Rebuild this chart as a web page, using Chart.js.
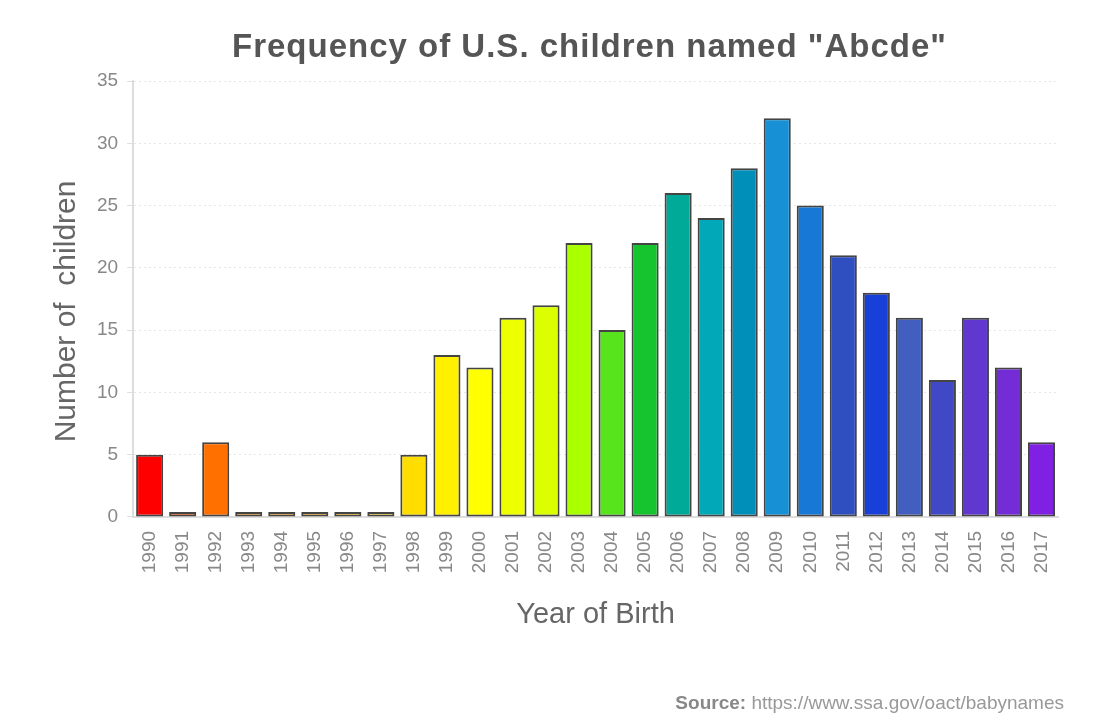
<!DOCTYPE html>
<html>
<head>
<meta charset="utf-8">
<script src="https://cdn.jsdelivr.net/npm/chart.js@4.4.1/dist/chart.umd.min.js"></script>
<style>
  body { margin: 0; background: #fff; }
  .wrap { position: relative; width: 1099px; height: 727px; }
  .source {
    position: absolute; right: 35px; top: 692px;
    font-family: "Liberation Sans", Arial, sans-serif;
    font-size: 19px; color: #999;
  }
  .source b { color: #888; }
</style>
</head>
<body>
<div class="wrap">
  <canvas id="myChart" width="1099" height="727"></canvas>
  <div class="source"><b>Source:</b> https://www.ssa.gov/oact/babynames</div>
</div>
<script>
const chartTitle = 'Frequency of U.S. children named "Abcde"'
const years = ['1990', '1991', '1992', '1993', '1994', '1995', '1996', '1997', '1998', '1999',
  '2000', '2001', '2002', '2003', '2004', '2005', '2006', '2007', '2008', '2009',
  '2010', '2011', '2012', '2013', '2014', '2015', '2016', '2017']
const counts = [5, 0, 6, 0, 0, 0, 0, 0, 5, 13, 12, 16, 17, 22, 15, 22, 26, 24, 28, 32,
  25, 21, 18, 16, 11, 16, 12, 6]
const barColors = [
  '#ff0000', '#ff5000', '#ff7000', '#ff9a18', '#ffa418', '#ffb018', '#ffc018', '#ffd018',
  '#ffdd00', '#fff000', '#ffff00', '#eeff00', '#dcff00', '#aaff00', '#58e41c', '#16c430',
  '#00aa98', '#00a8b8', '#008fb8', '#1890d6', '#1878d6', '#2f4ec0', '#1840d8', '#425fc0',
  '#4048c6', '#6038d0', '#732cd6', '#8020e2'
]
const yTicks = [0, 5, 10, 15, 20, 25, 30, 35]

// title drawn by hand, Chart.js title has no letter spacing
const spacedTitle = {
  id: 'spacedTitle',
  afterDraw(chart) {
    const c = chart.ctx
    c.save()
    c.font = 'bold 33px "Liberation Sans"'
    c.letterSpacing = '1px'
    c.fillStyle = '#555'
    c.textAlign = 'left'
    c.textBaseline = 'alphabetic'
    c.fillText(chartTitle, 232, 57)
    c.restore()
  }
}

const ctx = document.getElementById('myChart')
new Chart(ctx, {
  type: 'bar',
  data: {
    labels: years,
    datasets: [{
      data: counts,
      backgroundColor: barColors,
      borderColor: '#444',
      borderWidth: 2,
      borderSkipped: false,
      minBarLength: 5,
      barPercentage: 0.82,
      categoryPercentage: 1
    }]
  },
  options: {
    responsive: false,
    animation: false,
    layout: { padding: { left: 45, right: 41, top: 81, bottom: 91 } },
    plugins: {
      legend: { display: false },
      tooltip: { enabled: false },
      title: { display: false }
    },
    scales: {
      x: {
        grid: { display: false, drawTicks: false },
        border: { color: '#ddd', width: 2 },
        ticks: {
          color: '#888',
          font: { family: 'Liberation Sans', size: 19 },
          maxRotation: 90, minRotation: 90,
          padding: 14
        },
        title: {
          display: true,
          text: 'Year of Birth',
          color: '#666',
          font: { family: 'Liberation Sans', size: 29 },
          padding: { top: 10 }
        }
      },
      y: {
        min: 0, max: 35,
        afterBuildTicks: axis => { axis.ticks = yTicks.map(v => ({ value: v })) },
        grid: {
          color: '#e6e6e6',
          tickColor: '#ddd',
          tickLength: 6
        },
        border: { color: '#ddd', width: 2, dash: [2, 3] },
        ticks: {
          color: '#888',
          font: { family: 'Liberation Sans', size: 19 },
          padding: 9
        },
        title: {
          display: true,
          text: 'Number of  children   ',
          color: '#666',
          font: { family: 'Liberation Sans', size: 30 },
          padding: { top: 4, bottom: 3 }
        }
      }
    }
  },
  plugins: [spacedTitle]
})
</script>
</body>
</html>
